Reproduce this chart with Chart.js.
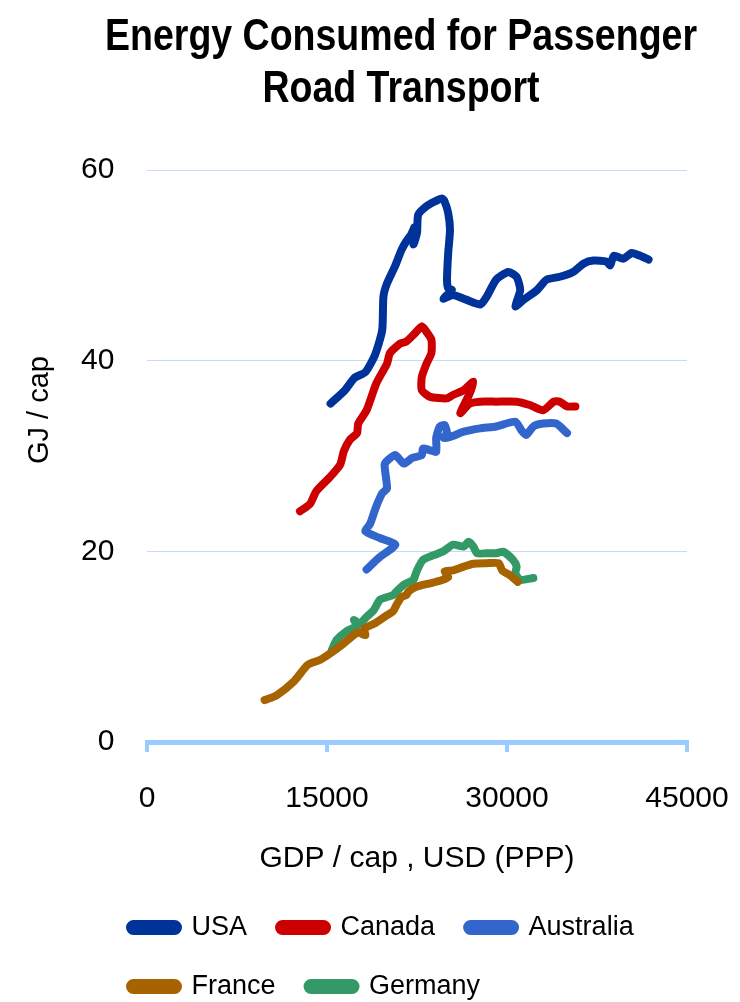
<!DOCTYPE html>
<html>
<head>
<meta charset="utf-8">
<script src="https://cdn.jsdelivr.net/npm/chart.js@4.4.1/dist/chart.umd.min.js"></script>
<style>
  html, body { margin: 0; padding: 0; background: #fff; }
  #wrap { width: 740px; height: 1002px; }
</style>
</head>
<body>
<div id="wrap"><canvas id="chart"></canvas></div>
<script>
// GDP per capita (thousand USD, PPP) and energy use (GJ / cap)
const usaGdp = [15.3, 16.5, 17.3, 18.2, 19.0, 19.6, 19.7, 20.0, 20.7, 21.2, 21.6, 22.0, 22.3, 22.2, 22.5, 22.6, 23.3, 24.0, 24.6, 24.8, 25.1, 25.25, 25.1, 25.0, 25.1, 25.4, 24.7, 25.5, 26.6, 27.8, 28.3, 29.1, 30.1, 30.8, 31.1, 30.7, 31.4, 32.5, 33.3, 34.4, 35.5, 36.4, 37.2, 38.3, 38.6, 38.9, 39.7, 40.4, 41.1, 41.8];
const usaEnergy = [35.5, 36.9, 38.2, 38.8, 40.6, 43.2, 46.7, 48.1, 50.0, 51.6, 52.5, 53.2, 54.0, 52.2, 53.4, 55.3, 56.2, 56.7, 57.0, 56.7, 55.5, 53.7, 51.3, 48.5, 47.6, 47.4, 46.5, 46.9, 46.4, 45.9, 46.7, 48.5, 49.3, 48.8, 47.4, 45.7, 46.4, 47.4, 48.5, 48.8, 49.3, 50.2, 50.5, 50.4, 50.0, 51.0, 50.7, 51.3, 51.0, 50.6];

const canadaGdp = [12.75, 13.6, 14.1, 15.25, 16.1, 16.4, 16.9, 17.5, 17.6, 18.3, 19.1, 20.0, 20.25, 21.1, 21.6, 22.2, 22.9, 23.3, 23.7, 23.7, 23.3, 22.9, 22.9, 23.6, 25.0, 25.5, 26.4, 27.2, 26.9, 26.1, 26.9, 27.75, 29.1, 30.8, 31.9, 33.0, 33.9, 34.4, 35.0, 35.7];
const canadaEnergy = [24.2, 25.0, 26.3, 27.8, 29.1, 30.5, 31.7, 32.4, 33.4, 34.8, 37.6, 39.7, 40.8, 41.8, 42.0, 42.7, 43.6, 43.0, 42.2, 40.8, 39.7, 38.3, 36.9, 36.2, 36.05, 36.4, 36.9, 37.8, 36.6, 34.5, 35.5, 35.7, 35.7, 35.7, 35.35, 34.8, 35.7, 35.7, 35.2, 35.2];

const australiaGdp = [18.3, 19.4, 20.7, 19.4, 18.2, 18.6, 19.1, 19.6, 20.0, 19.8, 20.1, 20.7, 21.4, 22.1, 22.9, 23.0, 23.6, 24.1, 24.1, 24.4, 24.8, 25.0, 24.7, 25.25, 26.4, 27.75, 29.1, 30.7, 31.2, 31.6, 32.2, 33.0, 34.1, 35.0];
const australiaEnergy = [18.1, 19.4, 20.7, 21.4, 22.1, 22.9, 24.7, 26.1, 26.6, 29.1, 29.6, 30.1, 29.2, 29.8, 30.1, 30.8, 30.6, 30.45, 31.9, 33.1, 33.25, 32.4, 31.9, 32.0, 32.55, 32.9, 33.1, 33.6, 32.7, 32.2, 33.1, 33.4, 33.4, 32.4];

const franceGdp = [9.8, 10.8, 12.2, 13.4, 14.4, 15.5, 16.4, 17.2, 17.6, 18.2, 18.1, 19.0, 20.0, 20.5, 20.8, 21.2, 21.6, 21.8, 22.5, 23.6, 24.6, 25.1, 24.8, 25.5, 26.4, 27.2, 28.3, 29.3, 29.6, 30.25, 30.9];
const franceEnergy = [4.4, 4.9, 6.3, 8.1, 8.6, 9.5, 10.35, 11.2, 11.5, 11.2, 11.9, 12.45, 13.3, 13.7, 14.4, 15.2, 15.4, 15.8, 16.3, 16.65, 17.0, 17.3, 17.9, 18.0, 18.4, 18.7, 18.75, 18.75, 18.0, 17.5, 16.8];

const germanyGdp = [15.4, 15.8, 16.6, 17.5, 17.25, 17.75, 18.2, 18.9, 19.4, 20.0, 20.5, 20.8, 21.4, 21.9, 22.2, 22.5, 23.0, 23.9, 24.7, 25.5, 26.4, 26.8, 27.2, 27.5, 28.3, 29.1, 29.7, 30.5, 30.8, 30.7, 31.1, 32.2];
const germanyEnergy = [9.65, 10.7, 11.6, 12.2, 12.8, 12.4, 13.0, 13.85, 14.9, 15.2, 15.4, 15.8, 16.5, 16.8, 17.0, 18.0, 19.1, 19.6, 20.0, 20.7, 20.5, 21.0, 20.5, 19.8, 19.8, 19.8, 19.95, 19.1, 18.4, 17.7, 17.0, 17.2];

const countries = ['USA', 'Canada', 'Australia', 'France', 'Germany'];
const colors = ['#003399', '#cc0000', '#3366cc', '#a66300', '#339966'];
const xTicks = [0, 15000, 30000, 45000];
const yTicks = [0, 20, 40, 60];
const titleLines = ['Energy Consumed for Passenger', 'Road Transport'];
const xTitle = 'GDP / cap , USD (PPP)';
const yTitle = 'GJ / cap';

const toPoints = (gdp, energy) => gdp.map((g, i) => ({ x: g * 1000, y: energy[i] }));
const series = [
  toPoints(usaGdp, usaEnergy),
  toPoints(canadaGdp, canadaEnergy),
  toPoints(australiaGdp, australiaEnergy),
  toPoints(franceGdp, franceEnergy),
  toPoints(germanyGdp, germanyEnergy),
];

const font = '"Liberation Sans", Arial, sans-serif';

// big title + rotated y title, drawn at fixed places like the original
const textPlugin = {
  id: 'textPlugin',
  afterDraw(chart) {
    const ctx = chart.ctx;
    ctx.save();
    ctx.fillStyle = '#000';
    ctx.textAlign = 'center';
    ctx.textBaseline = 'alphabetic';
    ctx.font = 'bold 44px ' + font;
    const sx = 592 / ctx.measureText(titleLines[0]).width;
    titleLines.forEach((line, i) => {
      ctx.save();
      ctx.translate(401, 50 + i * 52);
      ctx.scale(sx, 1);
      ctx.fillText(line, 0, 0);
      ctx.restore();
    });
    ctx.font = '29px ' + font;
    ctx.translate(40, 410);
    ctx.rotate(-Math.PI / 2);
    ctx.textBaseline = 'middle';
    ctx.fillText(yTitle, 0, 0);
    ctx.restore();
  }
};

new Chart(document.getElementById('chart'), {
  type: 'scatter',
  data: {
    datasets: countries.map((name, i) => ({
      label: name,
      data: series[i],
      showLine: true,
      borderColor: colors[i],
      backgroundColor: colors[i],
      borderWidth: 8,
      borderCapStyle: 'round',
      borderJoinStyle: 'round',
      tension: 0.2,
      pointRadius: 0,
      pointHoverRadius: 0,
    })),
  },
  options: {
    responsive: true,
    maintainAspectRatio: false,
    animation: false,
    layout: { padding: { left: 98, right: 53, top: 170, bottom: -8 } },
    scales: {
      x: {
        type: 'linear',
        min: 0,
        max: 45000,
        afterBuildTicks: (s) => { s.ticks = xTicks.map((v) => ({ value: v })); },
        afterFit: (s) => { s.paddingLeft = 0; s.paddingRight = 0; },
        ticks: {
          callback: (v) => String(v),
          color: '#000',
          font: { size: 30, family: font },
          padding: 29,
          maxRotation: 0,
        },
        grid: {
          drawOnChartArea: false,
          drawTicks: true,
          tickLength: 10,
          color: '#99ccff',
          lineWidth: 4,
        },
        border: { color: '#99ccff', width: 5 },
        title: {
          display: true,
          text: xTitle,
          color: '#000',
          font: { size: 30, family: font },
          padding: { top: -5, bottom: 5 },
        },
      },
      y: {
        min: 0,
        max: 60,
        afterBuildTicks: (s) => { s.ticks = yTicks.map((v) => ({ value: v })); },
        afterFit: (s) => { s.width = 49; },
        ticks: {
          color: '#000',
          font: { size: 30, family: font },
          mirror: true,
          crossAlign: 'far',
          padding: -66,
        },
        grid: { color: '#c5dcf6', lineWidth: 1, drawTicks: false },
        border: { display: false },
      },
    },
    plugins: {
      title: { display: false },
      tooltip: { enabled: false },
      legend: {
        position: 'bottom',
        align: 'start',
        labels: {
          color: '#000',
          font: { size: 27, family: font },
          boxWidth: 48,
          boxHeight: 7,
          useBorderRadius: true,
          borderRadius: 3.5,
          padding: 32,
        },
      },
    },
  },
  plugins: [textPlugin],
});
</script>
</body>
</html>
